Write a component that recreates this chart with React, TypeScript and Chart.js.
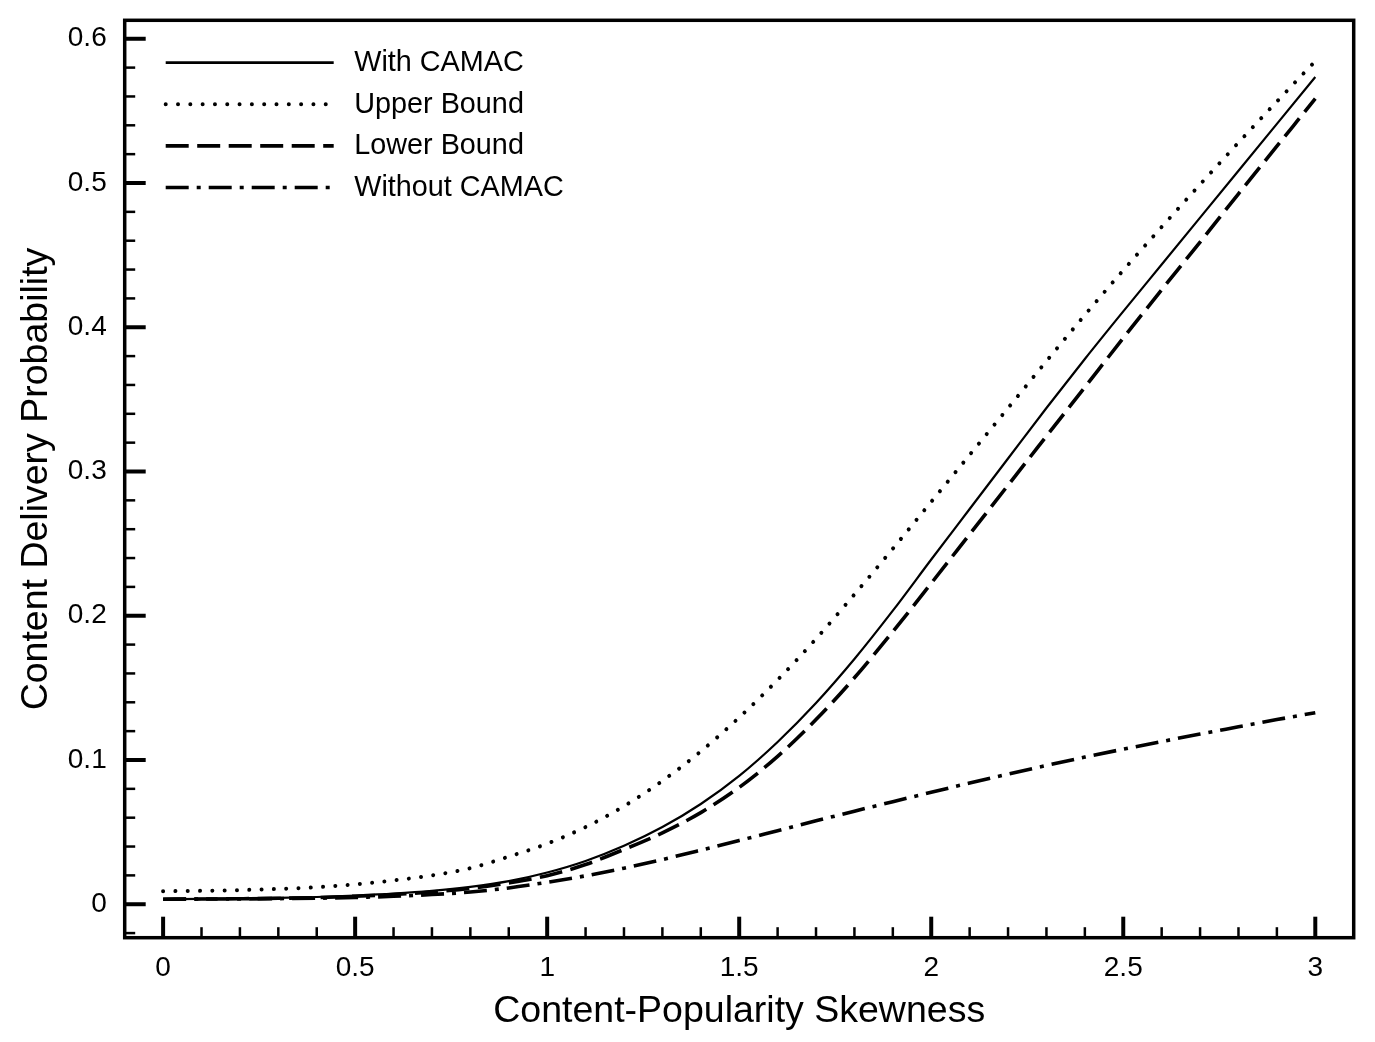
import React, { useEffect, useRef } from "react";
import { Chart, registerables } from "chart.js";

Chart.register(...registerables);

// Content-popularity skewness (x) and content delivery probability (y)
const SKEWNESS = [
  0, 0.1, 0.2, 0.3, 0.4, 0.5, 0.6, 0.7, 0.8, 0.9, 1.0, 1.1, 1.2, 1.3, 1.4, 1.5,
  1.6, 1.7, 1.8, 1.9, 2.0, 2.1, 2.2, 2.3, 2.4, 2.5, 2.6, 2.7, 2.8, 2.9, 3.0,
];

const WITH_CAMAC = [
  0.0035, 0.0037, 0.004, 0.0044, 0.005, 0.006, 0.0073, 0.0092, 0.012, 0.016,
  0.022, 0.03, 0.0405, 0.0535, 0.0695, 0.089, 0.1125, 0.1395, 0.17, 0.2035,
  0.239, 0.274, 0.309, 0.344, 0.378, 0.411, 0.4435, 0.476, 0.5085, 0.541,
  0.5735,
];

const UPPER_BOUND = [
  0.009, 0.0093, 0.0098, 0.0106, 0.0118, 0.0138, 0.0165, 0.02, 0.025, 0.033,
  0.042, 0.0535, 0.068, 0.0855, 0.106, 0.1295, 0.1555, 0.184, 0.2148, 0.2465,
  0.279, 0.3115, 0.344, 0.3765, 0.4085, 0.4395, 0.4695, 0.499, 0.528, 0.5565,
  0.5845,
];

const LOWER_BOUND = [
  0.0035, 0.0036, 0.0038, 0.0041, 0.0046, 0.0055, 0.0067, 0.0085, 0.011,
  0.0148, 0.0198, 0.0275, 0.038, 0.0495, 0.0635, 0.081, 0.1025, 0.128, 0.157,
  0.189, 0.2225, 0.2565, 0.2905, 0.3245, 0.3585, 0.3925, 0.426, 0.459, 0.4925,
  0.5255, 0.5585,
];

const WITHOUT_CAMAC = [
  0.0035, 0.0036, 0.0037, 0.0039, 0.0042, 0.0047, 0.0055, 0.0067, 0.0085,
  0.0113, 0.0152, 0.0197, 0.025, 0.031, 0.0375, 0.0442, 0.051, 0.0578, 0.0645,
  0.0711, 0.0776, 0.084, 0.0902, 0.0962, 0.102, 0.1075, 0.1128, 0.118, 0.123,
  0.128, 0.1328,
];

const X_TICKS = [0, 0.5, 1, 1.5, 2, 2.5, 3];
const Y_TICKS = [0, 0.1, 0.2, 0.3, 0.4, 0.5, 0.6];
const X_MIN = -0.1;
const X_MAX = 3.1;
const Y_MIN = -0.0232;
const Y_MAX = 0.6128;
const X_MINOR_STEP = 0.1;
const Y_MINOR_STEP = 0.02;

const FONT = '"Liberation Sans", Arial, Helvetica, sans-serif';

const toPoints = (ys: number[]) => SKEWNESS.map((x, i) => ({ x, y: ys[i] }));

const minorValues = (min: number, max: number, step: number) => {
  const out: number[] = [];
  const start = Math.ceil(min / step - 1e-9);
  const end = Math.floor(max / step + 1e-9);
  for (let k = start; k <= end; k++) out.push(+(k * step).toFixed(6));
  return out;
};

// Box frame plus inward-pointing major/minor tick marks
const frameTicks = {
  id: "frameTicks",
  afterDatasetsDraw(chart: any) {
    const { ctx, chartArea: a, scales } = chart;
    const xs = scales.x;
    const ys = scales.y;
    ctx.save();
    ctx.strokeStyle = "#000";
    ctx.lineCap = "butt";
    ctx.setLineDash([]);

    const isMajor = (v: number, majors: number[]) =>
      majors.some((m) => Math.abs(m - v) < 1e-6);

    minorValues(X_MIN, X_MAX, X_MINOR_STEP).forEach((v) => {
      const px = xs.getPixelForValue(v);
      if (px <= a.left + 2 || px >= a.right - 2) return;
      const major = isMajor(v, X_TICKS);
      ctx.lineWidth = major ? 4 : 2.5;
      ctx.beginPath();
      ctx.moveTo(px, a.bottom);
      ctx.lineTo(px, a.bottom - (major ? 21 : 10.5));
      ctx.stroke();
    });

    minorValues(Y_MIN, Y_MAX, Y_MINOR_STEP).forEach((v) => {
      const py = ys.getPixelForValue(v);
      if (py <= a.top + 2 || py >= a.bottom - 1) return;
      const major = isMajor(v, Y_TICKS);
      ctx.lineWidth = major ? 4 : 2.5;
      ctx.beginPath();
      ctx.moveTo(a.left, py);
      ctx.lineTo(a.left + (major ? 21 : 10.5), py);
      ctx.stroke();
    });

    ctx.lineWidth = 3.5;
    ctx.strokeRect(a.left, a.top, a.right - a.left, a.bottom - a.top);
    ctx.restore();
  },
};

// Legend drawn inside the upper-left corner of the plot
const insetLegend = {
  id: "insetLegend",
  afterDraw(chart: any) {
    const { ctx, chartArea: a } = chart;
    ctx.save();
    chart.data.datasets.forEach((ds: any, i: number) => {
      const y = a.top + 42.4 + i * 41.6;
      ctx.beginPath();
      ctx.setLineDash(ds.borderDash || []);
      ctx.lineWidth = ds.legendWidth || ds.borderWidth;
      ctx.lineCap = ds.borderCapStyle || "butt";
      ctx.strokeStyle = ds.borderColor;
      ctx.moveTo(a.left + 41, y);
      ctx.lineTo(a.left + 209, y);
      ctx.stroke();
      ctx.setLineDash([]);
      ctx.fillStyle = "#000";
      ctx.font = `28.8px ${FONT}`;
      ctx.textBaseline = "middle";
      ctx.textAlign = "left";
      ctx.fillText(ds.label, a.left + 229.5, y + 0.5);
    });
    ctx.restore();
  },
};

export default function App() {
  const canvasRef = useRef<HTMLCanvasElement | null>(null);

  useEffect(() => {
    const canvas = canvasRef.current;
    if (!canvas) return;

    const chart = new Chart(canvas, {
      type: "line",
      data: {
        datasets: [
          {
            label: "With CAMAC",
            data: toPoints(WITH_CAMAC),
            borderColor: "#000",
            borderWidth: 2.2,
            legendWidth: 2.8,
            borderCapStyle: "butt",
            borderDash: [],
          } as any,
          {
            label: "Upper Bound",
            data: toPoints(UPPER_BOUND),
            borderColor: "#000",
            borderWidth: 4,
            borderCapStyle: "round",
            borderDash: [0.01, 12.3],
          },
          {
            label: "Lower Bound",
            data: toPoints(LOWER_BOUND),
            borderColor: "#000",
            borderWidth: 3.6,
            borderCapStyle: "butt",
            borderDash: [23, 8.5],
          },
          {
            label: "Without CAMAC",
            data: toPoints(WITHOUT_CAMAC),
            borderColor: "#000",
            borderWidth: 3.6,
            borderCapStyle: "butt",
            borderDash: [23, 8, 4, 8],
          },
        ],
      },
      options: {
        animation: false,
        responsive: false,
        devicePixelRatio: 1,
        elements: {
          point: { radius: 0, hoverRadius: 0 },
          line: { cubicInterpolationMode: "monotone", fill: false },
        },
        layout: { padding: { left: 0, top: 20.3, right: 21.3, bottom: 0 } },
        plugins: {
          legend: { display: false },
          tooltip: { enabled: false },
        },
        scales: {
          x: {
            type: "linear",
            min: X_MIN,
            max: X_MAX,
            grid: { display: false, drawTicks: false, tickLength: 0 },
            border: { display: false },
            afterBuildTicks: (s: any) => {
              s.ticks = X_TICKS.map((v) => ({ value: v }));
            },
            afterFit: (s: any) => {
              s.height = 104.3;
              s.paddingLeft = 0;
              s.paddingRight = 0;
              s.paddingTop = 0;
              s.paddingBottom = 0;
            },
            ticks: {
              autoSkip: false,
              maxRotation: 0,
              color: "#000",
              padding: 14,
              font: { family: FONT, size: 28 },
              callback: (v: any) => String(v),
            },
            title: {
              display: true,
              text: "Content-Popularity Skewness",
              color: "#000",
              font: { family: FONT, size: 37.5 },
              padding: { top: 0, bottom: 8 },
            },
          },
          y: {
            type: "linear",
            min: Y_MIN,
            max: Y_MAX,
            grid: { display: false, drawTicks: false, tickLength: 0 },
            border: { display: false },
            afterBuildTicks: (s: any) => {
              s.ticks = Y_TICKS.map((v) => ({ value: v }));
            },
            afterFit: (s: any) => {
              s.width = 124.7;
              s.paddingLeft = 0;
              s.paddingRight = 0;
              s.paddingTop = 0;
              s.paddingBottom = 0;
            },
            ticks: {
              autoSkip: false,
              color: "#000",
              padding: 18,
              font: { family: FONT, size: 28 },
              callback: (v: any) => String(v),
            },
            title: {
              display: true,
              text: "Content Delivery Probability",
              color: "#000",
              font: { family: FONT, size: 37.5 },
              padding: { top: 14, bottom: 0 },
            },
          },
        },
      } as any,
      plugins: [frameTicks, insetLegend],
    });

    return () => chart.destroy();
  }, []);

  return (
    <canvas
      ref={canvasRef}
      width={1375}
      height={1042}
      style={{ position: "absolute", left: 0, top: 0, display: "block", background: "#fff" }}
    />
  );
}
